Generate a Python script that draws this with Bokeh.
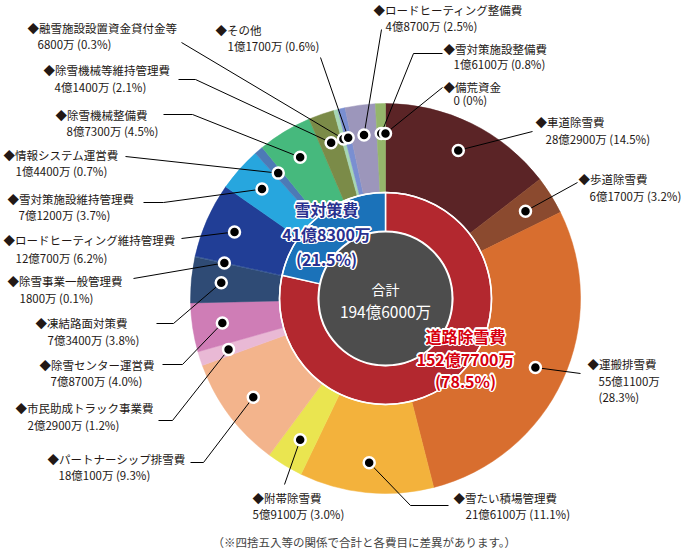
import numpy as np
from bokeh.plotting import figure
from bokeh.models import Range1d, ColumnDataSource
from bokeh.core.properties import value
from bokeh.embed import file_html
from bokeh.resources import INLINE

# ---------------- data ----------------
items = ["車道除雪費", "歩道除雪費", "運搬排雪費", "雪たい積場管理費", "附帯除雪費",
         "パートナーシップ排雪費", "市民助成トラック事業費", "除雪センター運営費",
         "凍結路面対策費", "除雪事業一般管理費", "ロードヒーティング維持管理費",
         "雪対策施設維持管理費", "情報システム運営費", "除雪機械整備費",
         "除雪機械等維持管理費", "融雪施設設置資金貸付金等", "その他",
         "ロードヒーティング整備費", "雪対策施設整備費", "備荒資金"]
amounts_man = [282900, 61700, 551100, 216100, 59100, 180100, 22900, 78700, 73400, 1800,
               120700, 71200, 14400, 87300, 41400, 6800, 11700, 48700, 16100, 0]
amount_text = ["28億2900万", "6億1700万", "55億1100万", "21億6100万", "5億9100万",
               "18億100万", "2億2900万", "7億8700万", "7億3400万", "1800万",
               "12億700万", "7億1200万", "1億4400万", "8億7300万", "4億1400万",
               "6800万", "1億1700万", "4億8700万", "1億6100万", "0"]
pct_text = ["14.5%", "3.2%", "28.3%", "11.1%", "3.0%", "9.3%", "1.2%", "4.0%", "3.8%", "0.1%",
            "6.2%", "3.7%", "0.7%", "4.5%", "2.1%", "0.3%", "0.6%", "2.5%", "0.8%", "0%"]
item_colors = ["#5b2426", "#8b4a2f", "#d86e2f", "#f3b23c", "#eae550",
               "#f3b48c", "#e9b9d5", "#cf7db6", "#2f4b75", "#3a5d92",
               "#213e96", "#27a6de", "#4d7ab6", "#46b97d", "#7b8b48",
               "#a6d6b4", "#7a8fd1", "#9c96bb", "#95b66b", "#cccccc"]

groups = ["道路除雪費", "雪対策費"]
group_amounts_man = [1527700, 418300]
group_amount_text = ["152億7700万", "41億8300万"]
group_pct_text = ["78.5%", "21.5%"]
group_colors = ["#b3282f", "#1b72b9"]
group_text_colors = ["#d7000f", "#2a3190"]

total_title = "合計"
total_text = "194億6000万"
note_text = "（※四捨五入等の関係で合計と各費目に差異があります。）"

# ---------------- layout ----------------
W, H = 700, 549
def Y(ys):
    return H - ys

CX, CY = 385, 298
R_OUT, R_MID, R_IN, R_DOT = 195, 106, 67, 165
FONT = value("Noto Sans CJK JP")

# label layout (screen px): line1 x,y ; line2 x,y ; leader waypoints (label side first)
label_layout = [
    (535, 121, 545, 138, [(532, 131)]),
    (578, 178, 589, 195, [(577, 182)]),
    (587, 363, 598, 380, [(580, 373)]),
    (453, 497, 465, 513, [(448, 505), (410, 505)]),
    (252, 497, 252, 513, [(284, 484)]),
    (47, 458, 58, 474, [(190, 462), (203, 462)]),
    (15, 407, 27, 424, [(158, 420), (172, 420)]),
    (39, 364, 50, 380, [(162, 364), (182, 364)]),
    (35, 322, 47, 339, [(156, 323), (173, 323)]),
    (7, 280, 19, 297, [(133, 278)]),
    (3, 239, 15, 257, [(181, 238)]),
    (7, 198, 18, 214, [(143, 202), (163, 202)]),
    (3, 154, 15, 170, [(125, 156)]),
    (55, 114, 66, 130, [(163, 114), (192, 114)]),
    (43, 69, 54, 86, [(178, 79), (195, 79)]),
    (27, 27, 37, 43, [(181, 42)]),
    (215, 29, 227, 45, [(320, 57)]),
    (373, 9, 385, 25, [(381, 29)]),
    (443, 48, 453, 63, [(442, 53), (413, 53)]),
    (443, 86, 453, 99, [(442, 87)]),
]
pct_own_line = {2: (598, 396)}

# ---------------- figure ----------------
p = figure(width=W, height=H, output_backend="svg", toolbar_location=None,
           x_range=Range1d(0, W), y_range=Range1d(0, H), min_border=0)
p.axis.visible = False
p.grid.visible = False
p.outline_line_color = None
p.background_fill_color = "white"
p.border_fill_color = "white"

cx, cy = CX, Y(CY)

# outer ring
frac = np.array(amounts_man, dtype=float) / sum(amounts_man)
cum = np.concatenate([[0.0], np.cumsum(frac)])
starts = np.pi / 2 - 2 * np.pi * cum[:-1]
ends = np.pi / 2 - 2 * np.pi * cum[1:]
mids = (starts + ends) / 2
nz = [i for i in range(len(items)) if amounts_man[i] > 0]
outer_src = ColumnDataSource(dict(
    start=[starts[i] for i in nz], end=[ends[i] for i in nz],
    color=[item_colors[i] for i in nz]))
p.annular_wedge(x=cx, y=cy, inner_radius=R_MID, outer_radius=R_OUT,
                start_angle="start", end_angle="end", direction="clock",
                fill_color="color", line_color="color", line_width=0.5, source=outer_src)

# inner ring
gfrac = np.array(group_amounts_man, dtype=float) / sum(group_amounts_man)
gcum = np.concatenate([[0.0], np.cumsum(gfrac)])
gstarts = np.pi / 2 - 2 * np.pi * gcum[:-1]
gends = np.pi / 2 - 2 * np.pi * gcum[1:]
inner_src = ColumnDataSource(dict(start=gstarts, end=gends, color=group_colors))
p.annular_wedge(x=cx, y=cy, inner_radius=R_IN, outer_radius=R_MID,
                start_angle="start", end_angle="end", direction="clock",
                fill_color="color", line_color="white", line_width=1.5, source=inner_src)

# white ring between rings, center disc
p.circle(x=[cx], y=[cy], radius=R_MID, fill_color=None, line_color="white", line_width=1.5)
p.circle(x=[cx], y=[cy], radius=R_IN, fill_color="#4d4d4d", line_color="white", line_width=2)

# center text
p.text(x=[cx], y=[Y(288)], text=[total_title],
       text_font=FONT, text_font_size=value("14px"), text_color="white",
       text_align="center", text_baseline="middle")
p.text(x=[cx], y=[Y(310)], text=[total_text],
       text_font=FONT, text_font_size=value("15.5px"), text_color="white",
       text_align="center", text_baseline="middle")

# group labels (white halo underneath, coloured text on top)
grp_pos = [(465, [335, 358, 380]), (326, [208, 233, 258])]
halo_offsets = [(1.6 * np.cos(a), 1.6 * np.sin(a)) for a in np.linspace(0, 2 * np.pi, 12, endpoint=False)]
for gi, (gx, gys) in enumerate(grp_pos):
    lines = [groups[gi], group_amount_text[gi], "(" + group_pct_text[gi] + ")"]
    hx, hy, ht = [], [], []
    for dx, dy in halo_offsets:
        for v, t in zip(gys, lines):
            hx.append(gx + dx); hy.append(Y(v) + dy); ht.append(t)
    p.text(x=hx, y=hy, text=ht,
           text_font=FONT, text_font_size=value("16px"), text_font_style="bold",
           text_color="white", text_align="center", text_baseline="middle")
    p.text(x=[gx] * 3, y=[Y(v) for v in gys], text=lines,
           text_font=FONT, text_font_size=value("16px"), text_font_style="bold",
           text_color=group_text_colors[gi],
           text_align="center", text_baseline="middle")

# dots
dot_x = cx + R_DOT * np.cos(mids)
dot_y = cy + R_DOT * np.sin(mids)

# leaders
xs, ys = [], []
for i, lay in enumerate(label_layout):
    pts = lay[4]
    xs.append([q[0] for q in pts] + [dot_x[i]])
    ys.append([Y(q[1]) for q in pts] + [dot_y[i]])
p.multi_line(xs=xs, ys=ys, line_color="black", line_width=1)
p.scatter(x=dot_x, y=dot_y, marker="circle", size=11, fill_color="black",
          line_color="white", line_width=2.5)

# labels
tx, ty, tt = [], [], []
for i, lay in enumerate(label_layout):
    x1, y1, x2, y2, _ = lay
    tx.append(x1); ty.append(Y(y1)); tt.append("◆" + items[i])
    if i in pct_own_line:
        tx.append(x2); ty.append(Y(y2)); tt.append(amount_text[i])
        px, py = pct_own_line[i]
        tx.append(px); ty.append(Y(py)); tt.append("(" + pct_text[i] + ")")
    else:
        tx.append(x2); ty.append(Y(y2)); tt.append(amount_text[i] + " (" + pct_text[i] + ")")
p.text(x=tx, y=ty, text=tt, text_font=FONT, text_font_size=value("11.5px"),
       text_color="#231815", text_align="left", text_baseline="middle")

# footnote
p.text(x=[212], y=[Y(541)], text=[note_text], text_font=FONT,
       text_font_size=value("11.5px"), text_color="#444444",
       text_align="left", text_baseline="middle")

open("out.html", "w").write(file_html(p, INLINE))
